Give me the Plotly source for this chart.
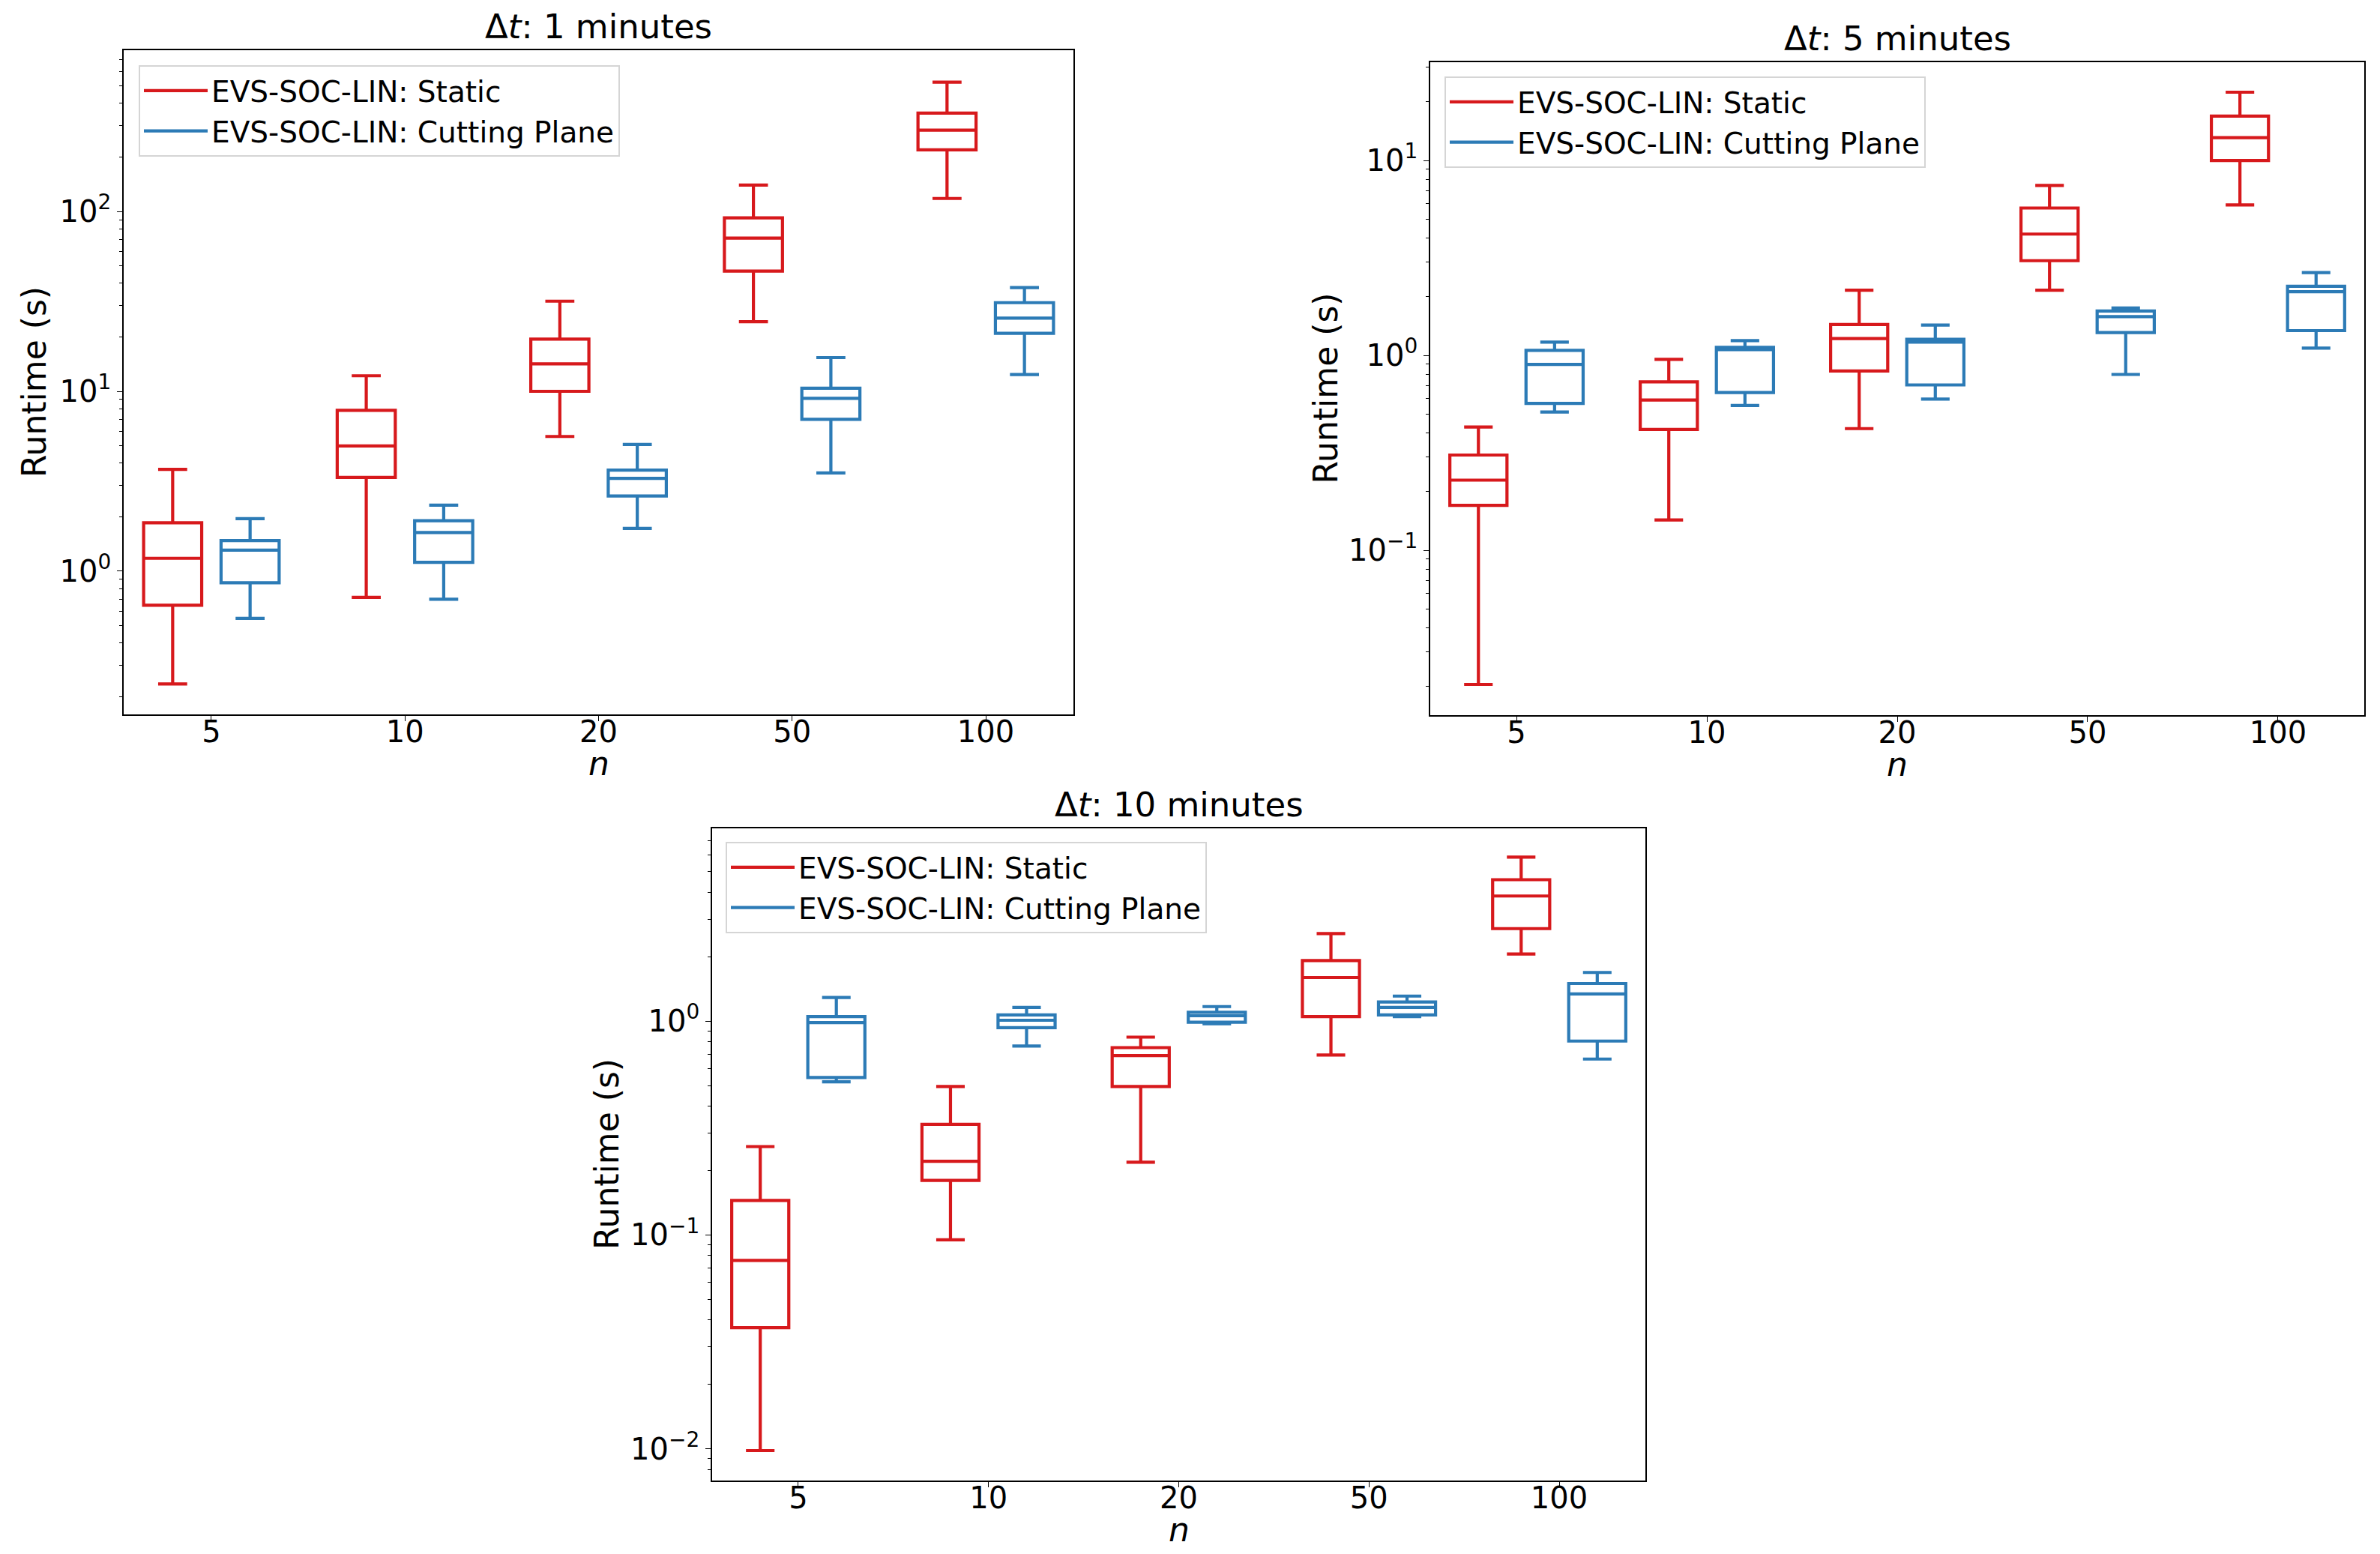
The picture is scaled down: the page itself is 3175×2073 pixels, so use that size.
import math
import plotly.graph_objects as go

W, H = 3175, 2073
FONT = "DejaVu Sans"
RED = "#d7191c"
BLUE = "#2c7bb6"

categories = ["5", "10", "20", "50", "100"]
positions = [1, 2, 3, 4, 5]
series_names = ["EVS-SOC-LIN: Static", "EVS-SOC-LIN: Cutting Plane"]
panel_titles = ["Δ<i>t</i>: 1 minutes", "Δ<i>t</i>: 5 minutes", "Δ<i>t</i>: 10 minutes"]

# ---- Δt = 1 minute ----
dt1_static_low = [0.236, 0.716, 5.61, 24.4, 118]
dt1_static_q1 = [0.647, 3.32, 10.0, 46.6, 220]
dt1_static_med = [1.18, 4.97, 14.2, 71.1, 283]
dt1_static_q3 = [1.86, 7.84, 19.5, 92.0, 352]
dt1_static_high = [3.68, 12.2, 31.7, 140, 523]

dt1_cut_low = [0.547, 0.698, 1.73, 3.52, 12.4]
dt1_cut_q1 = [0.863, 1.12, 2.62, 6.98, 21.0]
dt1_cut_med = [1.31, 1.64, 3.28, 9.14, 25.5]
dt1_cut_q3 = [1.48, 1.91, 3.65, 10.4, 31.1]
dt1_cut_high = [1.96, 2.33, 5.07, 15.4, 37.7]

# ---- Δt = 5 minutes ----
dt5_static_low = [0.0205, 0.143, 0.421, 2.16, 5.91]
dt5_static_q1 = [0.170, 0.417, 0.832, 3.06, 10.0]
dt5_static_med = [0.229, 0.590, 1.22, 4.19, 13.1]
dt5_static_q3 = [0.308, 0.731, 1.44, 5.70, 16.9]
dt5_static_high = [0.429, 0.954, 2.16, 7.44, 22.4]

dt5_cut_low = [0.512, 0.553, 0.597, 0.798, 1.09]
dt5_cut_q1 = [0.567, 0.645, 0.705, 1.31, 1.34]
dt5_cut_med = [0.899, 1.07, 1.17, 1.58, 2.12]
dt5_cut_q3 = [1.06, 1.10, 1.21, 1.69, 2.26]
dt5_cut_high = [1.17, 1.19, 1.43, 1.75, 2.66]

# ---- Δt = 10 minutes ----
dt10_static_low = [0.0098, 0.0948, 0.219, 0.694, 2.06]
dt10_static_q1 = [0.0368, 0.180, 0.495, 1.05, 2.71]
dt10_static_med = [0.0760, 0.221, 0.690, 1.60, 3.85]
dt10_static_q3 = [0.145, 0.329, 0.752, 1.92, 4.59]
dt10_static_high = [0.259, 0.495, 0.842, 2.57, 5.85]

dt10_cut_low = [0.520, 0.765, 0.973, 1.05, 0.665]
dt10_cut_q1 = [0.545, 0.933, 0.989, 1.07, 0.807]
dt10_cut_med = [0.984, 1.01, 1.06, 1.16, 1.34]
dt10_cut_q3 = [1.05, 1.07, 1.10, 1.23, 1.50]
dt10_cut_high = [1.29, 1.16, 1.17, 1.31, 1.69]

panels = [
    dict(static=(dt1_static_low, dt1_static_q1, dt1_static_med, dt1_static_q3, dt1_static_high),
         cut=(dt1_cut_low, dt1_cut_q1, dt1_cut_med, dt1_cut_q3, dt1_cut_high),
         box=(157, 59, 1424, 945), yrange=(-0.796, 2.896), majors=[0, 1, 2],
         legend=(177, 79), ytitle_dx=120),
    dict(static=(dt5_static_low, dt5_static_q1, dt5_static_med, dt5_static_q3, dt5_static_high),
         cut=(dt5_cut_low, dt5_cut_q1, dt5_cut_med, dt5_cut_q3, dt5_cut_high),
         box=(1900, 75, 3146, 946), yrange=(-1.846, 1.504), majors=[-1, 0, 1],
         legend=(1919, 94), ytitle_dx=140),
    dict(static=(dt10_static_low, dt10_static_q1, dt10_static_med, dt10_static_q3, dt10_static_high),
         cut=(dt10_cut_low, dt10_cut_q1, dt10_cut_med, dt10_cut_q3, dt10_cut_high),
         box=(942, 1097, 2187, 1967), yrange=(-2.149, 0.902), majors=[-2, -1, 0],
         legend=(960, 1115), ytitle_dx=141),
]

OFFSET = 0.2
BOXW = 0.3
LW = 4.2


def px_x(v):
    return v / W


def px_y(v):
    return 1 - v / H


def sup(e):
    s = str(e).replace("-", "\u2212")
    return "10<sup>" + s + "</sup>"


fig = go.Figure()
layout = dict(
    width=W, height=H, margin=dict(l=0, r=0, t=0, b=0),
    paper_bgcolor="white", plot_bgcolor="white",
    font=dict(family=FONT, size=40, color="black"),
    showlegend=True, boxmode="overlay", annotations=[],
)

for i, p in enumerate(panels):
    k = "" if i == 0 else str(i + 1)
    xa, ya = "x" + k, "y" + k
    legname = "legend" + k
    x0, y0, x1, y1 = p["box"]
    for name, key, color, off in [(series_names[0], "static", RED, -OFFSET),
                                  (series_names[1], "cut", BLUE, OFFSET)]:
        low, q1, med, q3, high = p[key]
        fig.add_trace(go.Box(
            x=[pos + off for pos in positions], q1=q1, median=med, q3=q3,
            lowerfence=low, upperfence=high, width=BOXW, whiskerwidth=0.5,
            boxpoints=False, line=dict(color=color, width=LW),
            fillcolor="rgba(0,0,0,0)", showlegend=False, hoverinfo="skip",
            xaxis=xa, yaxis=ya,
        ))
        fig.add_trace(go.Scatter(
            x=[None], y=[None], mode="lines", name=name,
            line=dict(color=color, width=LW), xaxis=xa, yaxis=ya, legend=legname,
        ))
    lo, hi = p["yrange"]
    minors = []
    for e in range(math.floor(lo), math.ceil(hi) + 1):
        for m in range(2, 10):
            v = m * 10 ** e
            if lo <= math.log10(v) <= hi:
                minors.append(v)
    layout["xaxis" + k] = dict(
        domain=[px_x(x0), px_x(x1)], anchor=ya, range=[0.547, 5.453],
        tickvals=positions, ticktext=categories, ticks="outside", ticklen=7,
        tickwidth=1.3, tickcolor="black", showline=True, linecolor="black",
        linewidth=1.5, mirror=True, showgrid=False, zeroline=False,
        tickfont=dict(size=40, family=FONT), ticklabelstandoff=-20,
    )
    layout["yaxis" + k] = dict(
        domain=[px_y(y1), px_y(y0)], anchor=xa, type="log", range=[lo, hi],
        tickvals=[10 ** e for e in p["majors"]], ticktext=[sup(e) for e in p["majors"]],
        ticks="outside", ticklen=7, tickwidth=1.3, tickcolor="black",
        minor=dict(tickvals=minors, ticks="outside", ticklen=4, tickwidth=1.1,
                   tickcolor="black", showgrid=False),
        showline=True, linecolor="black", linewidth=1.5, mirror=True,
        showgrid=False, zeroline=False, tickfont=dict(size=40, family=FONT),
    )
    lx, ly = p["legend"]
    layout[legname] = dict(
        x=px_x(lx), y=px_y(ly), xanchor="left", yanchor="top",
        bgcolor="white", bordercolor="#d5d5d5", borderwidth=2,
        font=dict(size=39, family=FONT), itemwidth=85,
    )
    cx = (x0 + x1) / 2
    cy = (y0 + y1) / 2
    layout["annotations"].append(dict(
        text=panel_titles[i], x=px_x(cx), y=px_y(y0), xref="paper", yref="paper",
        xanchor="center", yanchor="bottom", yshift=3, showarrow=False,
        font=dict(size=45, family=FONT),
    ))
    layout["annotations"].append(dict(
        text="Runtime (s)", x=px_x(x0 - p["ytitle_dx"]), y=px_y(cy), xref="paper",
        yref="paper", xanchor="center", yanchor="middle", textangle=-90,
        showarrow=False, font=dict(size=44, family=FONT),
    ))
    layout["annotations"].append(dict(
        text="<i>n</i>", x=px_x(cx), y=px_y(y1 + 65), xref="paper", yref="paper",
        xanchor="center", yanchor="middle", showarrow=False,
        font=dict(size=44, family=FONT),
    ))

fig.update_layout(**layout)
fig.write_html("out.html")
